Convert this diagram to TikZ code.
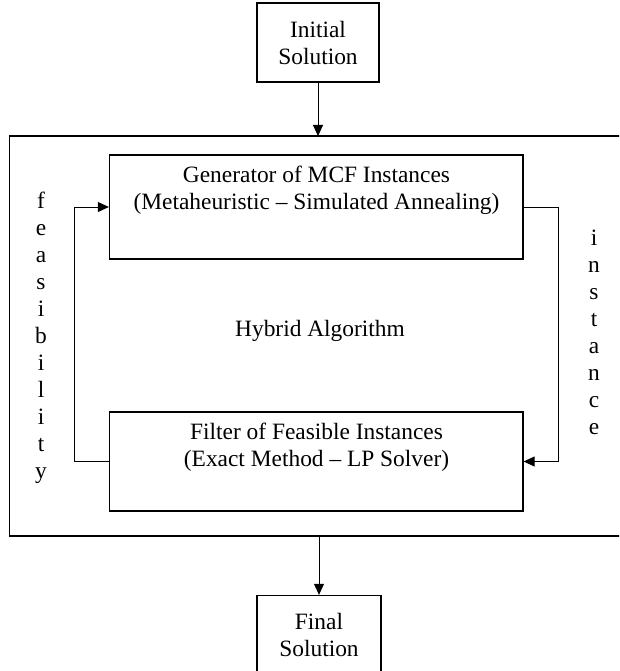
\documentclass[tikz,border=0pt]{standalone}
\usepackage{fontspec}
\setmainfont{Liberation Serif}
\usetikzlibrary{arrows.meta}
\begin{document}
\begin{tikzpicture}[x={(1pt,0pt)},y={(0pt,-1pt)},
  every node/.style={font=\fontsize{23.4}{27}\selectfont, inner sep=0pt},
  boxstyle/.style={draw, line width=1.3pt, rectangle},
  conn/.style={line width=0.9pt, -{Triangle[length=11pt,width=10pt]}},
  frame/.style={line width=1.4pt}]
\useasboundingbox (0,0) rectangle (619,671);
\clip (0,0) rectangle (619,671);
% outer frame
\coordinate (ftop) at (318,136);
\coordinate (fbot) at (319,536);
\draw[frame] (630,136) -- (9.5,136) -- (9.5,536) -- (630,536);
% initial / final
\node[boxstyle, minimum width=122pt, minimum height=79pt, align=center] (init) at (318,42.5) {Initial\\Solution};
\node[boxstyle, minimum width=124pt, minimum height=79pt, align=center] (final) at (319,635) {Final\\Solution};
% inner boxes
\node[boxstyle, minimum width=413.5pt, minimum height=104pt] (gen) at (316.25,207) {};
\node[align=center] (gentext) at (316.5,190.5) {Generator of MCF Instances\\(Metaheuristic -- Simulated Annealing)};
\node[boxstyle, minimum width=413.5pt, minimum height=99pt] (filt) at (316.25,461.5) {};
\node[align=center] (filttext) at (316.5,447.5) {Filter of Feasible Instances\\(Exact Method -- LP Solver)};
\node (hyb) at (320,331) {Hybrid Algorithm};
% letters
\node[align=center, anchor=north] (feas) at (41,192) {f\\e\\a\\s\\i\\b\\i\\l\\i\\t\\y};
\node[align=center, anchor=north] (inst) at (594,230) {i\\n\\s\\t\\a\\n\\c\\e};
% connectors
\draw[conn] (init.south) -- (ftop);
\draw[conn] (fbot) -- (final.north);
\draw[conn] (gen.east) -- (558,207) -- (558,461.5) -- (filt.east);
\draw[conn] (filt.west) -- (74,461.5) -- (74,207) -- (gen.west);
\end{tikzpicture}
\end{document}
